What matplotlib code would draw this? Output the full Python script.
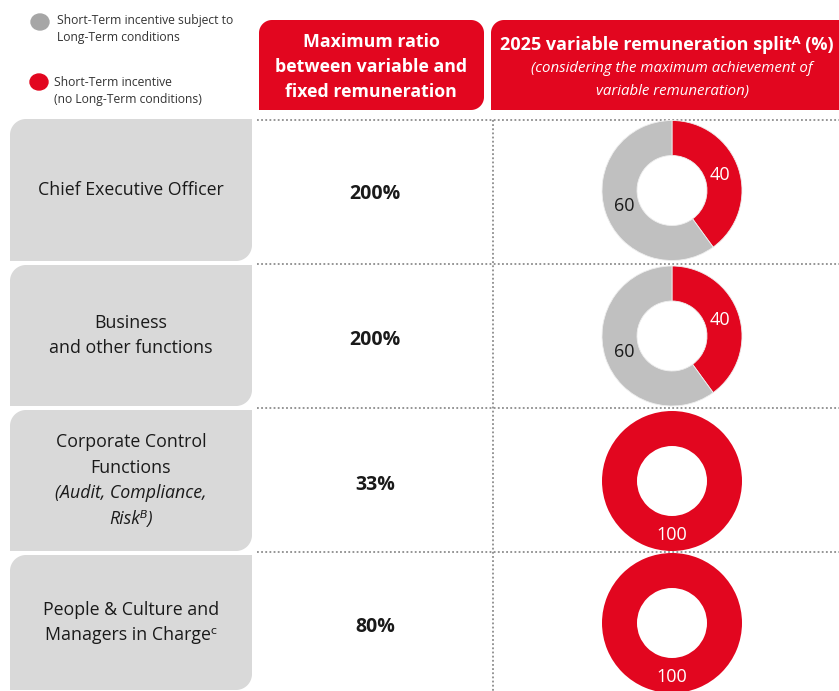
import numpy as np
import matplotlib
matplotlib.use("Agg")
import matplotlib.pyplot as plt
from matplotlib.patches import Polygon, Ellipse

plt.rcParams['font.family'] = ['Open Sans', 'DejaVu Sans']

# ---------------- data ----------------
roles = [
    ["Chief Executive Officer"],
    ["Business", "and other functions"],
    ["Corporate Control", "Functions", "(Audit, Compliance,", "Risk\u1D2E)"],
    ["People & Culture and", "Managers in Charge\u1D9C"],
]
role_italic = [
    [False],
    [False, False],
    [False, False, True, True],
    [False, False],
]
max_ratio = ["200%", "200%", "33%", "80%"]
st_no_lt = [40, 40, 100, 100]       # red: Short-Term incentive (no Long-Term conditions)
st_with_lt = [60, 60, 0, 0]         # grey: Short-Term incentive subject to Long-Term conditions
legend_labels = ["Short-Term incentive subject to\nLong-Term conditions",
                 "Short-Term incentive\n(no Long-Term conditions)"]
header_left = ["Maximum ratio", "between variable and", "fixed remuneration"]
header_right_title = "2025 variable remuneration split\u1D2C (%)"
header_right_sub = ["(considering the maximum achievement of", "variable remuneration)"]

RED = "#E2061F"
GREY = "#C0C0C0"
BOX = "#D9D9D9"
TXT = "#1A1A1A"

W, H = 839, 691
fig = plt.figure(figsize=(W / 100, H / 100), dpi=100)
ax = fig.add_axes([0, 0, 1, 1])
ax.set_xlim(0, W)
ax.set_ylim(H, 0)
ax.axis('off')


def rbox(x0, y0, x1, y1, r_tl=0, r_tr=0, r_br=0, r_bl=0, **kw):
    pts = []
    def arc(cx, cy, r, a0, a1):
        if r == 0:
            return [(cx, cy)]
        t = np.radians(np.linspace(a0, a1, 20))
        return list(zip(cx + r * np.cos(t), cy + r * np.sin(t)))
    pts += arc(x0 + r_tl, y0 + r_tl, r_tl, 180, 270)
    pts += arc(x1 - r_tr, y0 + r_tr, r_tr, 270, 360)
    pts += arc(x1 - r_br, y1 - r_br, r_br, 0, 90)
    pts += arc(x0 + r_bl, y1 - r_bl, r_bl, 90, 180)
    ax.add_patch(Polygon(pts, closed=True, **kw))


# legend
ax.add_patch(Ellipse((40, 22), 18, 16, color="#A6A6A6"))
ax.add_patch(Ellipse((39, 82), 18, 16, color=RED))
ax.text(57, 29, legend_labels[0], fontsize=8.7, color="#333333", va='center', linespacing=1.4)
ax.text(54, 91, legend_labels[1], fontsize=8.7, color="#333333", va='center', linespacing=1.4)

# headers
rbox(259, 20, 484, 110, r_tl=13, r_tr=13, r_br=13, r_bl=0, color=RED, lw=0)
rbox(491, 20, 870, 110, r_tl=13, r_tr=0, r_br=0, r_bl=0, color=RED, lw=0)
for i, t in enumerate(header_left):
    ax.text(371, 42 + 25 * i, t, fontsize=12.8, fontweight='bold', color='white',
            ha='center', va='center')
ax.text(667, 45, header_right_title, fontsize=13.0, fontweight='bold', color='white',
        ha='center', va='center')
for i, t in enumerate(header_right_sub):
    ax.text(672, 68 + 23 * i, t, fontsize=10.8, style='italic', color='white',
            ha='center', va='center')

# rows
row_top = [119, 265, 410, 555]
row_bot = [261, 406, 551, 690]
line_y = [120, 264, 408, 552]
for y in line_y:
    ax.plot([257, W], [y, y], color="#8C8C8C", lw=1.3, ls=(0, (1, 1.3)))
ax.plot([493, 493], [120, H], color="#8C8C8C", lw=1.3, ls=(0, (1, 1.3)))

for i in range(4):
    rbox(10, row_top[i], 252, row_bot[i], r_tl=16, r_br=16, color=BOX, lw=0)
    cy = (row_top[i] + row_bot[i]) / 2
    lines = roles[i]
    n = len(lines)
    for j, t in enumerate(lines):
        y = cy + (j - (n - 1) / 2) * 25.5
        ax.text(131, y, t, fontsize=12.8, color=TXT, ha='center', va='center',
                style='italic' if role_italic[i][j] else 'normal')
    ax.text(375, cy + 4, max_ratio[i], fontsize=14, fontweight='bold', color=TXT,
            ha='center', va='center')

    # donut
    dcx, dcy, R = 672, cy + 0.5, 70
    dax = fig.add_axes([(dcx - R) / W, 1 - (dcy + R) / H, 2 * R / W, 2 * R / H])
    vals = [st_no_lt[i], st_with_lt[i]]
    full = min(vals) == 0
    wedges, texts, autotexts = dax.pie(
        vals, colors=[RED, GREY], startangle=90, counterclock=False,
        wedgeprops=dict(width=0.5, edgecolor='none' if full else '#EEEEEE',
                        linewidth=0 if full else 0.6),
        autopct=lambda p: f"{p:.0f}" if p > 0 else "", pctdistance=0.72,
        textprops=dict(fontsize=13))
    autotexts[0].set_color('white')
    autotexts[1].set_color(TXT)
    if full:
        autotexts[0].set_position((0, -0.77))
    dax.set_xlim(-1, 1)
    dax.set_ylim(-1, 1)
    dax.axis('off')

fig.savefig("out.png", dpi=100)
